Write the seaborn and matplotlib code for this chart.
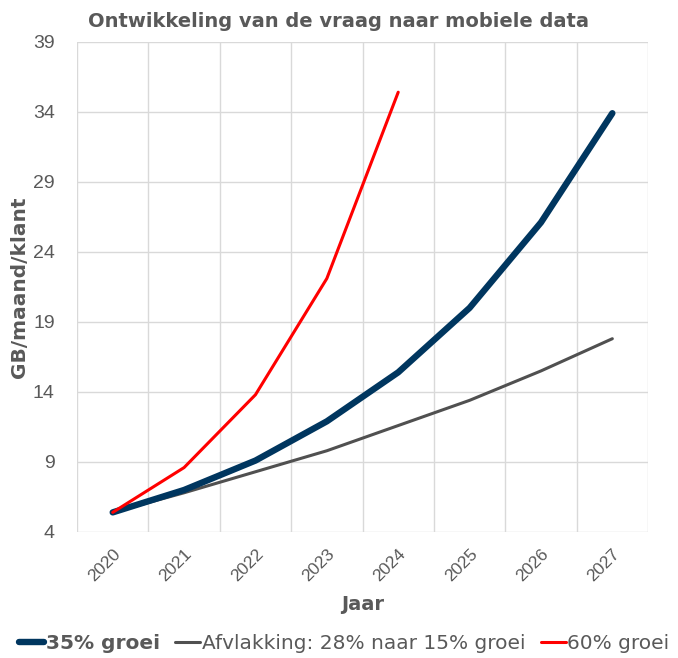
import matplotlib
matplotlib.use("Agg")
import matplotlib.pyplot as plt
import seaborn as sns
import pandas as pd
import numpy as np

jaren = [2020, 2021, 2022, 2023, 2024, 2025, 2026, 2027]
groei_35 = [5.4, 7.0, 9.1, 11.9, 15.4, 20.0, 26.1, 33.9]
afvlakking = [5.4, 6.8, 8.3, 9.8, 11.6, 13.4, 15.5, 17.8]
jaren_60 = [2020, 2021, 2022, 2023, 2024]
groei_60 = [5.4, 8.6, 13.8, 22.1, 35.4]

y_ticks = [4, 9, 14, 19, 24, 29, 34, 39]

GRIJS = "#595959"
GRID = "#D9D9D9"

sns.set_style("white")
plt.rcParams["font.family"] = ["DejaVu Sans"]

fig = plt.figure(figsize=(6.78, 6.58), dpi=100)
ax = fig.add_axes([0.1136, 0.1915, 0.8422, 0.745])

df35 = pd.DataFrame({"jaar": jaren, "GB": groei_35})
dfaf = pd.DataFrame({"jaar": jaren, "GB": afvlakking})
df60 = pd.DataFrame({"jaar": jaren_60, "GB": groei_60})

sns.lineplot(data=df35, x="jaar", y="GB", ax=ax, color="#00365F", linewidth=4.6,
             label="35% groei", solid_capstyle="round", solid_joinstyle="round", zorder=4)
sns.lineplot(data=dfaf, x="jaar", y="GB", ax=ax, color="#505050", linewidth=2.2,
             label="Afvlakking: 28% naar 15% groei", solid_capstyle="round",
             solid_joinstyle="round", zorder=3)
sns.lineplot(data=df60, x="jaar", y="GB", ax=ax, color="#FF0000", linewidth=2.2,
             label="60% groei", solid_capstyle="round", solid_joinstyle="round", zorder=5)

ax.set_xlim(jaren[0] - 0.5, jaren[-1] + 0.5)
ax.set_ylim(y_ticks[0], y_ticks[-1])
ax.set_yticks(y_ticks)
ax.set_xticks(jaren)
ax.set_xticks(np.arange(jaren[0] - 0.5, jaren[-1] + 1, 1.0), minor=True)
ax.set_xticklabels([str(j) for j in jaren], rotation=45, ha="right",
                   rotation_mode="anchor", fontsize=12.5, color=GRIJS,
                   family="Liberation Sans")
ax.set_yticklabels([str(v) for v in y_ticks], fontsize=14, color=GRIJS,
                   family="Liberation Sans")

ax.grid(False)
for v in y_ticks:
    ax.axhline(v, color=GRID, linewidth=1.0, zorder=1)
for v in np.arange(jaren[0] - 0.5, jaren[-1] + 1, 1.0):
    ax.axvline(v, color=GRID, linewidth=1.0, zorder=1)

for s in ax.spines.values():
    s.set_visible(False)
ax.tick_params(axis="x", which="major", length=0, pad=10)
ax.tick_params(axis="x", which="minor", length=5, color=GRID, width=1.0)
ax.tick_params(axis="y", length=0, pad=16)

ax.set_xlabel("Jaar", fontsize=14, fontweight="bold", color=GRIJS, labelpad=8)
ax.set_ylabel("GB/maand/klant", fontsize=14.5, fontweight="bold", color=GRIJS, labelpad=3)
fig.suptitle("Ontwikkeling van de vraag naar mobiele data", x=0.5, y=0.982,
             fontsize=14, fontweight="bold", color=GRIJS)

leg = ax.legend(loc="lower center", bbox_to_anchor=(0.508, -0.004), bbox_transform=fig.transFigure,
                ncol=3, frameon=False, fontsize=14.5, handlelength=1.25,
                handletextpad=0.08, columnspacing=0.75, borderaxespad=0.0)
for t in leg.get_texts():
    t.set_color(GRIJS)
leg.get_texts()[0].set_fontweight("bold")

fig.savefig("out.png", dpi=100)
